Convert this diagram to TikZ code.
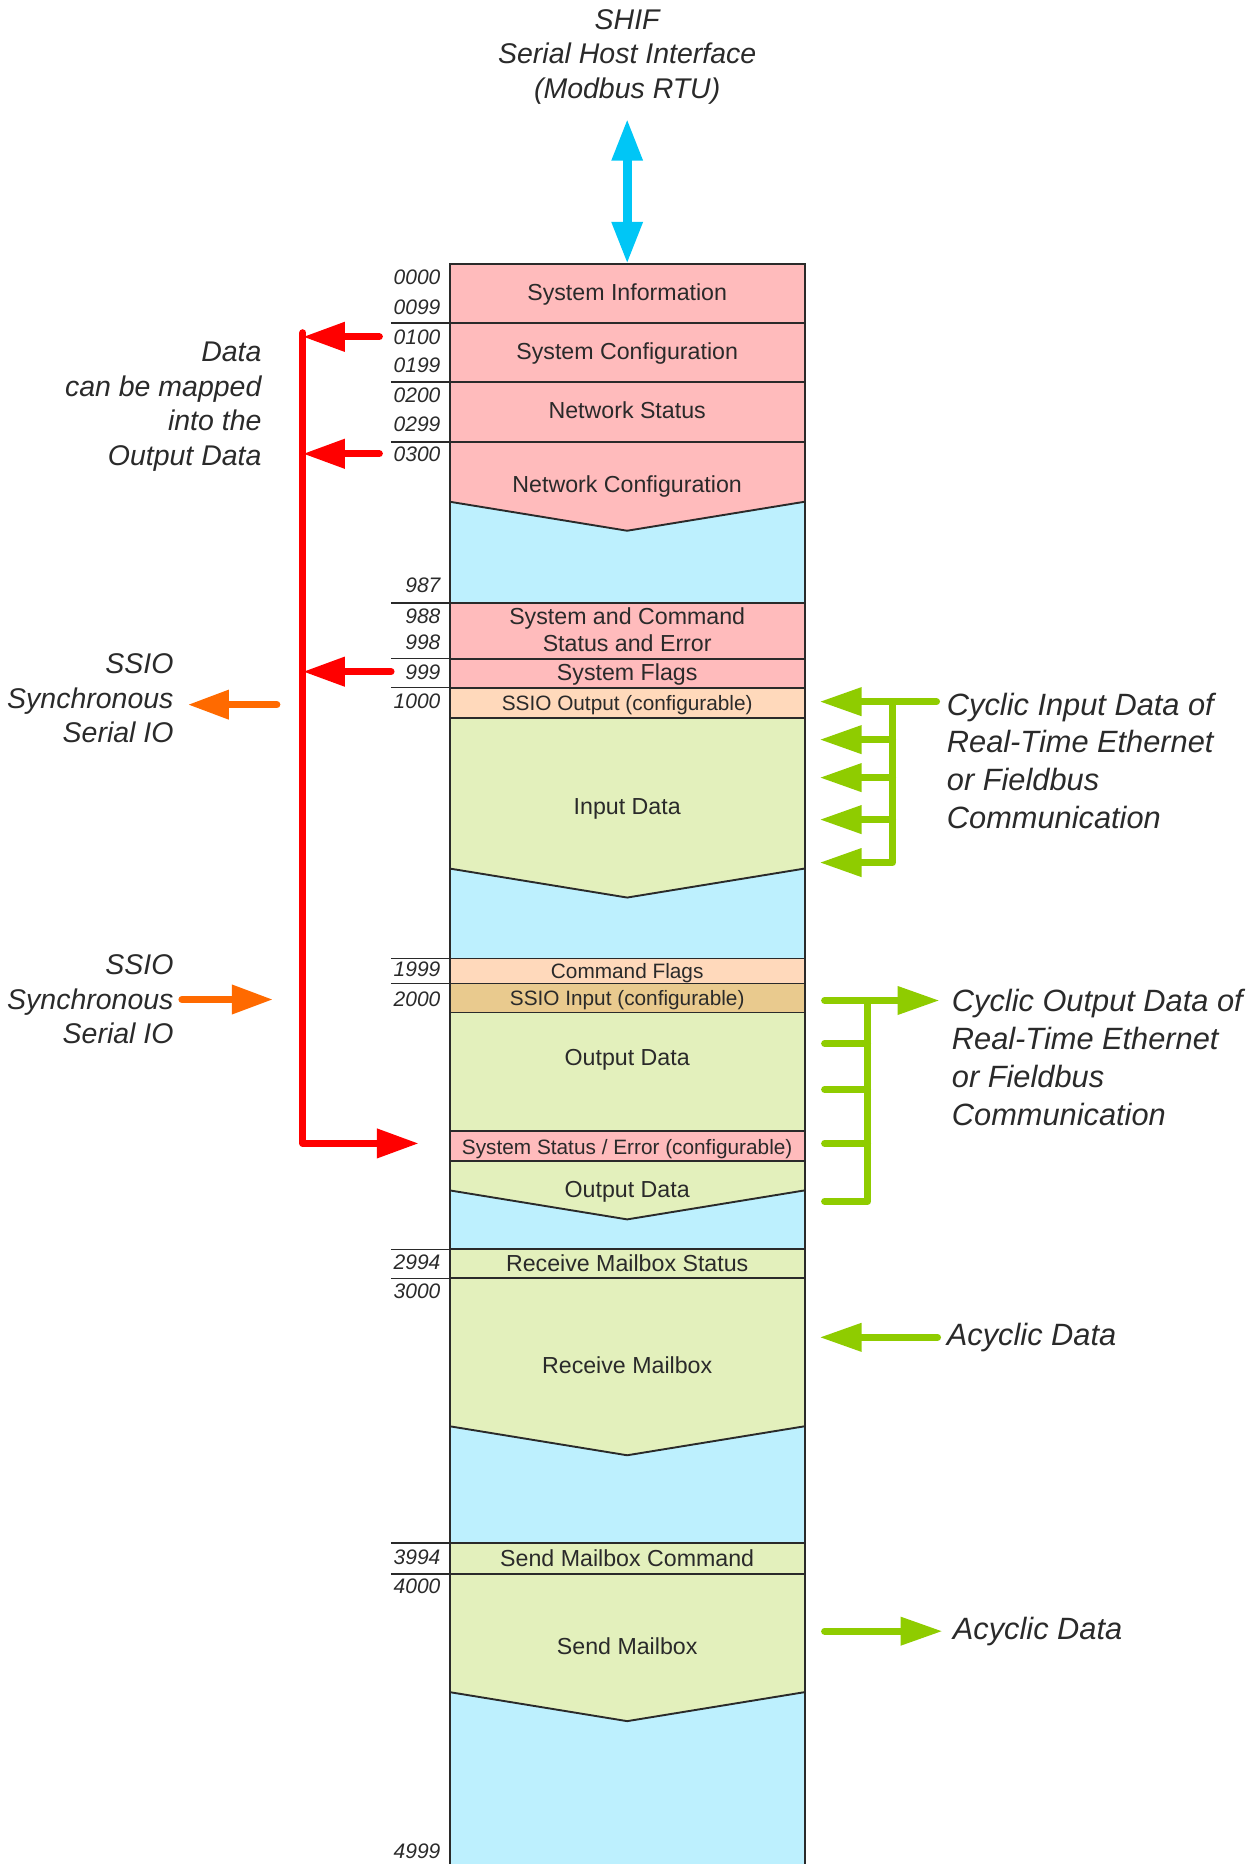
\documentclass[tikz,border=0pt]{standalone}
\usepackage{fontspec}
\setmainfont{Liberation Sans}
\usetikzlibrary{arrows.meta}

\definecolor{mmink}{HTML}{2A2A2A}
\definecolor{mmpink}{HTML}{FFBBBC}
\definecolor{mmblue}{HTML}{BDF0FE}
\definecolor{mmpeach}{HTML}{FFD9BB}
\definecolor{mmtan}{HTML}{E9CA8E}
\definecolor{mmgreen}{HTML}{E3F0BC}
\definecolor{mmred}{HTML}{FF0000}
\definecolor{mmorange}{HTML}{FF6A00}
\definecolor{mmlime}{HTML}{8FCC00}
\definecolor{mmcyan}{HTML}{00C6F6}

\begin{document}
\begin{tikzpicture}[
  x=.5pt,y=-.5pt,
  font=\fontsize{11.6}{13.5}\selectfont,
  text=mmink,
  cell/.style={draw=mmink,line width=.95pt},
  sep/.style={draw=mmink,line width=.8pt},
  blk/.style={inner sep=0pt,text height=8pt,text depth=0pt},
  small/.style={blk,font=\fontsize{10.4}{12}\selectfont},
  addr/.style={font=\itshape\fontsize{10.5}{12}\selectfont,anchor=east,
               inner sep=0pt,text height=7.5pt,text depth=0pt},
  note/.style={font=\itshape\fontsize{14.25}{17.25}\selectfont,inner sep=0pt},
  bignote/.style={font=\itshape\fontsize{15.4}{18.85}\selectfont,inner sep=0pt,
                  align=left,anchor=west},
  busline/.style={draw=mmred,line width=3.6pt,line cap=round,line join=round},
  busarrow/.style={busline,-{Triangle[length=21pt,width=14pt]}},
  ssioarrow/.style={draw=mmorange,line width=3.5pt,line cap=round,
                    -{Triangle[length=20.5pt,width=14pt]}},
  limeline/.style={draw=mmlime,line width=3.5pt,line cap=round,line join=round},
  limearrow/.style={limeline,-{Triangle[length=21pt,width=13.5pt]}},
  hostarrow/.style={draw=mmcyan,line width=4.5pt,
                    {Triangle[length=21pt,width=14.5pt]}-{Triangle[length=21pt,width=14.5pt]}}
]
  % memory column
  \fill[mmblue] (450,264) rectangle (805,1865);
  \foreach \ya/\yb/\col in {264/502/mmpink,718/869/mmgreen,1162/1191/mmgreen,
                            1279/1427/mmgreen,1575/1693/mmgreen}{
    \fill[\col] (450,\ya) -- (805,\ya) -- (805,\yb) -- (627.5,\yb+29) -- (450,\yb) -- cycle;
    \draw[cell] (450,\yb) -- (627.5,\yb+29) -- (805,\yb);
  }
  \foreach \ya/\yb/\col in {264/323/mmpink,323/382/mmpink,382/442/mmpink,
                            603/659/mmpink,659/688/mmpink,688/718/mmpeach,
                            959/984/mmpeach,984/1013/mmtan,1013/1132/mmgreen,
                            1132/1162/mmpink,1250/1279/mmgreen,1544/1575/mmgreen}
    \draw[cell,fill=\col] (450,\ya) rectangle (805,\yb);
  \draw[cell] (450,264) -- (450,1865);
  \draw[cell] (805,264) -- (805,1865);
  \coordinate (memtop) at (627.5,264);

  % address scale
  \foreach \y in {323,382,442,603,659,688,959,984,1250,1279,1544,1575}
    \draw[sep] (391,\y) -- (450,\y);
  \foreach \y/\lab in {277/0000,307/0099,337/0100,365/0199,395/0200,424/0299,
                       454/0300,585/987,616/988,642/998,672/999,701/1000,
                       969/1999,999/2000,1263/2994,1292/3000,1558/3994,
                       1587/4000,1852/4999}
    \node[addr] (a\lab) at (441,\y) {\lab};

  % block names
  \node[blk] (sysinfo)  at (627.5,293)  {System Information};
  \node[blk] (syscfg)   at (627.5,352)  {System Configuration};
  \node[blk] (netstat)  at (627.5,411)  {Network Status};
  \node[blk] (netcfg)   at (627.5,485)  {Network Configuration};
  \node[inner sep=0pt,align=center] (syscmd) at (627.5,630)
    {System and Command\\Status and Error};
  \node[blk] (sysflags) at (627.5,673)  {System Flags};
  \node[small] (ssioout) at (627.5,703) {SSIO Output (configurable)};
  \node[blk] (indata)   at (627.5,807)  {Input Data};
  \node[small] (cmdflags) at (627.5,971) {Command Flags};
  \node[small] (ssioin) at (627.5,998)  {SSIO Input (configurable)};
  \node[blk] (outdata)  at (627.5,1058) {Output Data};
  \node[small] (sysstat) at (627.5,1147) {System Status / Error (configurable)};
  \node[blk] (outdatab) at (627.5,1190) {Output Data};
  \node[blk] (rmbstat)  at (627.5,1264) {Receive Mailbox Status};
  \node[blk] (rmb)      at (627.5,1366) {Receive Mailbox};
  \node[blk] (smbcmd)   at (627.5,1559) {Send Mailbox Command};
  \node[blk] (smb)      at (627.5,1647) {Send Mailbox};

  % host interface
  \node[note,align=center] (shif) at (627.5,57)
    {SHIF\\Serial Host Interface\\(Modbus RTU)};
  \draw[hostarrow] ([yshift=-7pt]shif.south) -- (memtop);

  % mapping into the output data
  \node[note,align=right,anchor=east] (maptxt) at (262,407)
    {Data\\can be mapped\\into the\\Output Data};
  \coordinate (mapbus) at (303,333);
  \coordinate (mapin) at (419,1144);
  \foreach \a in {a0100,a0300,a999}
    \draw[busarrow] ([xshift=-7pt]\a.west) -- (\a.west -| mapbus);
  \draw[busarrow] (mapbus) |- (mapin);

  % SSIO
  \node[note,align=right,anchor=east] (ssioa) at (174,699)
    {SSIO\\Synchronous\\Serial IO};
  \node[note,align=right,anchor=east] (ssiob) at (174,1000)
    {SSIO\\Synchronous\\Serial IO};
  \coordinate (ssiosrc) at (277,705);
  \coordinate (ssiodst) at (273,1000);
  \draw[ssioarrow] (ssiosrc) -- (ssiosrc -| ssioa.east) [shorten >=7pt];
  \draw[ssioarrow] ([xshift=4pt]ssiob.east |- ssiodst) -- (ssiodst);

  % cyclic data
  \node[bignote] (cycin) at (947,761)
    {Cyclic Input Data of\\Real-Time Ethernet\\or Fieldbus\\Communication};
  \node[bignote] (cycout) at (952,1058)
    {Cyclic Output Data of\\Real-Time Ethernet\\or Fieldbus\\Communication};
  \coordinate (rgap) at (820,0);
  \coordinate (lgap) at (825,0);
  \coordinate (cinfeed) at (937,702);
  \coordinate (cinbar) at (893,702);
  \draw[limearrow] (cinfeed) -- (cinfeed -| rgap);
  \foreach \y in {740,778,820}
    \draw[limearrow] (893,\y) -- (820,\y);
  \draw[limearrow] (cinbar) |- (820,863);
  \coordinate (coutbar) at (868,1001);
  \draw[limearrow] (coutbar -| lgap) -- ([xshift=-6pt]cycout.west |- coutbar);
  \foreach \y in {1044,1090,1144}
    \draw[limeline] (825,\y) -- (868,\y);
  \draw[limeline] (coutbar) |- (825,1202);

  % mailbox data
  \node[bignote] (acycin) at (947,1338) {Acyclic Data};
  \node[bignote] (acycout) at (953,1632) {Acyclic Data};
  \draw[limearrow] ([xshift=-4.5pt]acycin.west) -- (acycin.west -| rgap);
  \draw[limearrow] (acycout.west -| lgap) -- ([xshift=-5pt]acycout.west);

  \path[use as bounding box] (0,0) rectangle (1258,1865);
\end{tikzpicture}
\end{document}
